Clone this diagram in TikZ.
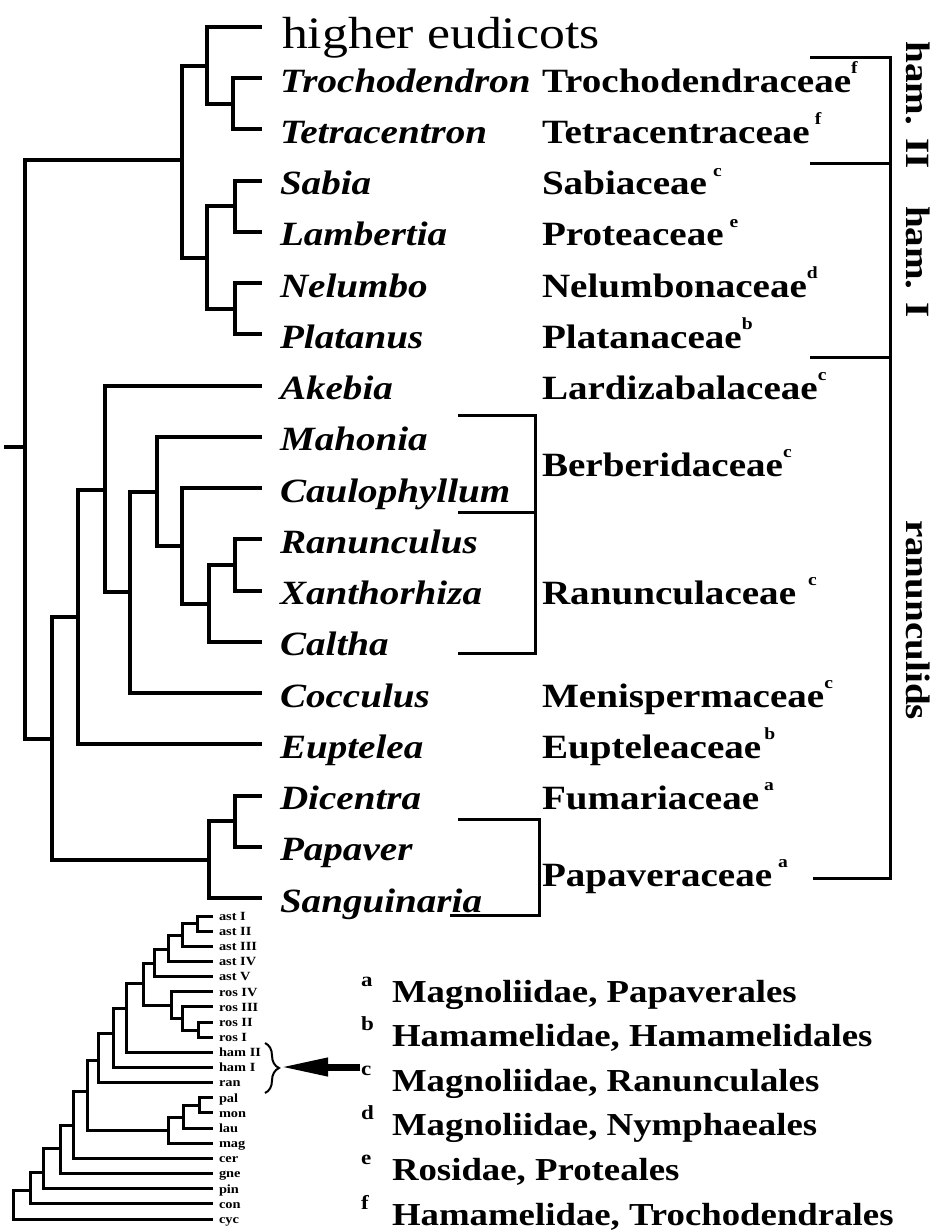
\documentclass[tikz,border=0pt]{standalone}
\usepackage{fontspec}
\setmainfont{Liberation Serif}[FakeStretch=1.15]
\usetikzlibrary{arrows.meta, decorations.pathreplacing}
\newcommand{\fnmark}[1]{\raisebox{0.55em}{\fontsize{17}{17}\selectfont\bfseries #1}}
\tikzset{
  every picture/.style={line width=4pt},
  species/.style={font=\fontsize{34}{40}\selectfont\bfseries\itshape, inner sep=0pt, anchor=base west},
  family/.style={font=\fontsize{34}{40}\selectfont\bfseries, inner sep=0pt, anchor=base west},
  clade/.style={font=\fontsize{34}{40}\selectfont\bfseries, rotate=-90, inner sep=0pt},
  minitaxon/.style={font=\fontsize{12.5}{13}\selectfont\bfseries, inner sep=0pt, anchor=base west},
  legend/.style={font=\fontsize{32}{38}\selectfont\bfseries, inner sep=0pt, anchor=base west},
  legmark/.style={font=\fontsize{20}{22}\selectfont\bfseries, inner sep=0pt, anchor=base west},
  bracket/.style={line width=3pt},
  minibranch/.style={line width=3pt},
}
\begin{document}
\begin{tikzpicture}[x=1pt, y=-1pt]
  \useasboundingbox (0,0) rectangle (947,1232);
  % taxa of the main tree
  \coordinate (t0) at (262,27);
  \node[font=\fontsize{45}{50}\selectfont, inner sep=0pt, anchor=base west] (sp0) at (280,48) {higher eudicots};
  \foreach \name [count=\i] in {Trochodendron, Tetracentron, Sabia, Lambertia, Nelumbo, Platanus, Akebia, Mahonia, Caulophyllum, Ranunculus, Xanthorhiza, Caltha, Cocculus, Euptelea, Dicentra, Papaver, Sanguinaria} {
    \coordinate (t\i) at (262,27+51.24*\i);
    \node[species] (sp\i) at (278,27+51.24*\i+14) {\name};
  }
  % inner nodes
  \coordinate (a1) at (233,104);
  \coordinate (a2) at (207,66);
  \coordinate (a3) at (235,206);
  \coordinate (a4) at (235,309);
  \coordinate (a5) at (207,258);
  \coordinate (a6) at (182,160);
  \coordinate (b1) at (235,565);
  \coordinate (b2) at (209,604);
  \coordinate (b3) at (182,546);
  \coordinate (b4) at (157,492);
  \coordinate (b5) at (130,592);
  \coordinate (b6) at (105,490);
  \coordinate (b7) at (78,617);
  \coordinate (c1) at (235,821);
  \coordinate (c2) at (209,860);
  \coordinate (c3) at (52,739);
  \coordinate (root) at (25,447);
  \coordinate (stub) at (4,447);
  \foreach \p/\c in {a1/t1, a1/t2, a2/t0, a2/a1, a3/t3, a3/t4, a4/t5, a4/t6, a5/a3, a5/a4, a6/a2, a6/a5,
                     b1/t10, b1/t11, b2/b1, b2/t12, b3/t9, b3/b2, b4/t8, b4/b3, b5/b4, b5/t13, b6/t7, b6/b5, b7/b6, b7/t14,
                     c1/t15, c1/t16, c2/c1, c2/t17, c3/b7, c3/c2, root/a6, root/c3}
    \draw (\p) |- (\c);
  \draw (stub) -- (root);
  % families
  \foreach \r/\fam [count=\k] in {1/Trochodendraceae\fnmark{f}, 2/Tetracentraceae\kern5pt\fnmark{f}, 3/Sabiaceae\kern6pt\fnmark{c},
                                  4/Proteaceae\kern6pt\fnmark{e}, 5/Nelumbonaceae\fnmark{d}, 6/Platanaceae\fnmark{b},
                                  7/Lardizabalaceae\fnmark{c}, 8.5/Berberidaceae\fnmark{c}, 11/Ranunculaceae\kern12pt\fnmark{c},
                                  13/Menispermaceae\fnmark{c}, 14/Eupteleaceae\kern3pt\fnmark{b}, 15/Fumariaceae\kern5pt\fnmark{a},
                                  16.5/Papaveraceae\kern6pt\fnmark{a}}
    \node[family] (fam\k) at (540,27+51.24*\r+14) {\fam};
  \draw[bracket] (458,415) -| (535,653) -- (458,653);
  \draw[bracket] (458,512) -- (535,512);
  \draw[bracket] (458,819) -| (539,915) -- (450,915);
  % clades
  \draw[bracket] (810,57) -| (890,878) -- (813,878);
  \draw[bracket] (810,163) -- (890,163);
  \draw[bracket] (810,357) -- (890,357);
  \node[clade] (hamII) at (918,105) {ham. II};
  \node[clade] (hamI) at (918,262) {ham. I};
  \node[clade] (ranun) at (918,620) {ranunculids};
  % small tree
  \foreach \lab [count=\j from 0] in {ast I, ast II, ast III, ast IV, ast V, ros IV, ros III, ros II, ros I, ham II, ham I, ran, pal, mon, lau, mag, cer, gne, pin, con, cyc} {
    \coordinate (u\j) at (213,916+15.15*\j);
    \node[minitaxon] (mini\j) at (217,916+15.15*\j+4.3) {\lab};
  }
  \coordinate (m1) at (197,923);
  \coordinate (m2) at (182,935);
  \coordinate (m3) at (168,949);
  \coordinate (m4) at (154,963);
  \coordinate (r1) at (198,1030);
  \coordinate (r2) at (182,1018);
  \coordinate (r3) at (171,1005);
  \coordinate (m5) at (143,983);
  \coordinate (m6) at (126,1008);
  \coordinate (m7) at (113,1033);
  \coordinate (m8) at (98,1060);
  \coordinate (p1) at (199,1105);
  \coordinate (p2) at (183,1117);
  \coordinate (p3) at (168,1130);
  \coordinate (m9) at (87,1091);
  \coordinate (m10) at (73,1125);
  \coordinate (m11) at (60,1148);
  \coordinate (m12) at (43,1172);
  \coordinate (m13) at (30,1190);
  \coordinate (m14) at (13,1205);
  \foreach \p/\c in {m1/u0, m1/u1, m2/m1, m2/u2, m3/m2, m3/u3, m4/m3, m4/u4, r1/u7, r1/u8, r2/u6, r2/r1, r3/u5, r3/r2,
                     m5/m4, m5/r3, m6/m5, m6/u9, m7/m6, m7/u10, m8/m7, m8/u11, p1/u12, p1/u13, p2/p1, p2/u14, p3/p2, p3/u15,
                     m9/m8, m9/p3, m10/m9, m10/u16, m11/m10, m11/u17, m12/m11, m12/u18, m13/m12, m13/u19, m14/m13, m14/u20}
    \draw[minibranch] (\p) |- (\c);
  % brace and arrow
  \draw[decorate, decoration={brace, amplitude=14pt}, line width=2pt] (265,1043) -- (265,1093);
  \coordinate (bracetip) at (280,1067);
  \coordinate (arrtail) at (360,1067);
  \draw[-{Triangle[length=48pt, width=17pt]}, line width=7pt] (arrtail) -- (bracetip);
  % legend
  \foreach \m/\txt [count=\k from 0] in {a/{Magnoliidae, Papaverales}, b/{Hamamelidae, Hamamelidales}, c/{Magnoliidae, Ranunculales},
                                         d/{Magnoliidae, Nymphaeales}, e/{Rosidae, Proteales}, f/{Hamamelidae, Trochodendrales}} {
    \node[legmark] (mark\m) at (359,1002+44.6*\k-16) {\m};
    \node[legend] (leg\m) at (390,1002+44.6*\k) {\txt};
  }
\end{tikzpicture}
\end{document}
